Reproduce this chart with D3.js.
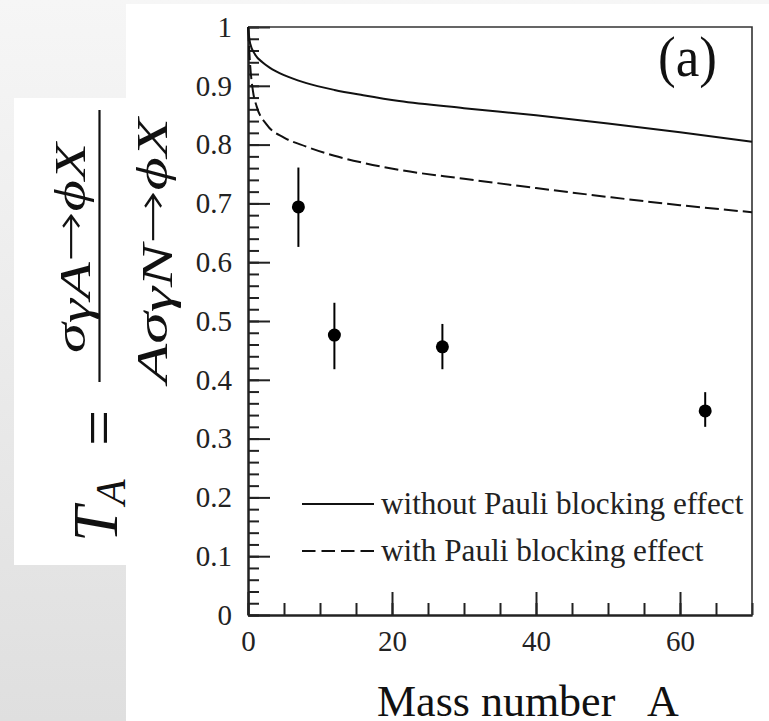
<!DOCTYPE html>
<html>
<head>
<meta charset="utf-8">
<script src="https://cdn.jsdelivr.net/npm/d3@7"></script>
<style>
  html, body { margin: 0; padding: 0; background: #ffffff; }
  svg { display: block; }
</style>
</head>
<body>
<svg id="chart" width="769" height="721"></svg>
<script>
// ---------------- data ----------------
const massNumbers   = [7, 12, 27, 63.5];
const tValues       = [0.694, 0.476, 0.456, 0.347];
const tErrHigh      = [0.761, 0.531, 0.495, 0.379];
const tErrLow       = [0.626, 0.418, 0.418, 0.320];

const curveNoPauliA = [0, 0.3, 1, 2, 3, 5, 8, 12, 16, 21, 30, 40, 50, 60, 70];
const curveNoPauliT = [1.0, 0.972, 0.953, 0.940, 0.931, 0.918, 0.905, 0.893, 0.884, 0.874, 0.862, 0.850, 0.836, 0.821, 0.805];

const curvePauliA   = [0, 0.3, 0.7, 1.2, 2.6, 5, 8, 12, 16, 21, 30, 40, 50, 60, 70];
const curvePauliT   = [1.0, 0.935, 0.89, 0.865, 0.834, 0.812, 0.797, 0.781, 0.769, 0.757, 0.742, 0.726, 0.711, 0.697, 0.685];

const xTickValues   = [0, 20, 40, 60];
const xTickLabels   = ["0", "20", "40", "60"];
const yTickValues   = [0, 0.1, 0.2, 0.3, 0.4, 0.5, 0.6, 0.7, 0.8, 0.9, 1];
const yTickLabels   = ["0", "0.1", "0.2", "0.3", "0.4", "0.5", "0.6", "0.7", "0.8", "0.9", "1"];

const legendLabels  = ["without Pauli blocking effect", "with Pauli blocking effect"];
const panelLabel    = "(a)";
const xAxisTitle    = "Mass number";
const xAxisSymbol   = "A";

// ---------------- layout ----------------
const svg = d3.select("#chart");
const W = 769, H = 721;
const plot = { left: 248, right: 752, top: 27, bottom: 615 };
const serif = "'Liberation Serif', 'Times New Roman', serif";

const x = d3.scaleLinear().domain([0, 70]).range([plot.left, plot.right]);
const y = d3.scaleLinear().domain([0, 1]).range([plot.bottom, plot.top]);

// background gradient (slide)
const defs = svg.append("defs");
const grad = defs.append("linearGradient").attr("id", "bg").attr("x1", 0).attr("y1", 0).attr("x2", 0).attr("y2", 1);
grad.append("stop").attr("offset", "0%").attr("stop-color", "#f6f6f6");
grad.append("stop").attr("offset", "100%").attr("stop-color", "#dfdfdf");
svg.append("rect").attr("width", W).attr("height", H).attr("fill", "url(#bg)");

// white panels
svg.append("rect").attr("x", 126).attr("y", 4).attr("width", W - 126).attr("height", H - 4).attr("fill", "#ffffff");
svg.append("rect").attr("x", 14).attr("y", 98).attr("width", 112).attr("height", 467).attr("fill", "#ffffff");

// ---------------- axes ----------------
const minorY = d3.range(0, 51).map(i => i / 50);
const minorX = d3.range(0, 15).map(i => i * 5);

svg.append("g")
  .attr("transform", `translate(${plot.left},0)`)
  .call(d3.axisLeft(y).tickValues(minorY).tickSizeInner(-11).tickSizeOuter(0).tickFormat(""))
  .call(g => g.selectAll("line, path").attr("stroke", "#222").attr("stroke-width", 2));

svg.append("g")
  .attr("transform", `translate(0,${plot.bottom})`)
  .call(d3.axisBottom(x).tickValues(minorX).tickSizeInner(-12).tickSizeOuter(0).tickFormat(""))
  .call(g => g.selectAll("line, path").attr("stroke", "#222").attr("stroke-width", 2));

svg.append("g")
  .attr("transform", `translate(${plot.left},0)`)
  .call(d3.axisLeft(y).tickValues(yTickValues).tickSizeInner(-22).tickSizeOuter(0).tickPadding(16)
        .tickFormat((d, i) => yTickLabels[i]))
  .call(g => g.selectAll("line, path").attr("stroke", "#222").attr("stroke-width", 2))
  .call(g => g.selectAll("text").attr("font-family", serif).attr("font-size", 29).attr("fill", "#222"));

svg.append("g")
  .attr("transform", `translate(0,${plot.bottom})`)
  .call(d3.axisBottom(x).tickValues(xTickValues).tickSizeInner(-23).tickSizeOuter(0).tickPadding(15)
        .tickFormat((d, i) => xTickLabels[i]))
  .call(g => g.selectAll("line, path").attr("stroke", "#222").attr("stroke-width", 2))
  .call(g => g.selectAll("text").attr("font-family", serif).attr("font-size", 29).attr("fill", "#222"));

// frame top & right
svg.append("path")
  .attr("d", `M${x(0)},${y(1)}H${x(70)}V${y(0)}`)
  .attr("fill", "none").attr("stroke", "#333").attr("stroke-width", 1.6);

// ---------------- curves ----------------
const line = d3.line().x(d => x(d[0])).y(d => y(d[1])).curve(d3.curveMonotoneX);
const noPauli = curveNoPauliA.map((a, i) => [a, curveNoPauliT[i]]);
const pauli = curvePauliA.map((a, i) => [a, curvePauliT[i]]);

svg.append("path").datum(noPauli).attr("d", line)
  .attr("fill", "none").attr("stroke", "#111").attr("stroke-width", 2);
svg.append("path").datum(pauli).attr("d", line)
  .attr("fill", "none").attr("stroke", "#111").attr("stroke-width", 2)
  .attr("stroke-dasharray", "14,5");

// ---------------- data points ----------------
const pts = massNumbers.map((a, i) => ({ a, v: tValues[i], hi: tErrHigh[i], lo: tErrLow[i] }));
const gp = svg.append("g");
gp.selectAll("line.err").data(pts).join("line")
  .attr("class", "err")
  .attr("x1", d => x(d.a)).attr("x2", d => x(d.a))
  .attr("y1", d => y(d.hi)).attr("y2", d => y(d.lo))
  .attr("stroke", "#000").attr("stroke-width", 2);
gp.selectAll("circle").data(pts).join("circle")
  .attr("cx", d => x(d.a)).attr("cy", d => y(d.v)).attr("r", 6.5).attr("fill", "#000");

// ---------------- legend ----------------
const legY = [504, 551];
legendLabels.forEach((lab, i) => {
  svg.append("line")
    .attr("x1", 302).attr("x2", 374).attr("y1", legY[i]).attr("y2", legY[i])
    .attr("stroke", "#111").attr("stroke-width", 2)
    .attr("stroke-dasharray", i === 1 ? "13.5,6" : null);
  svg.append("text")
    .attr("x", 381).attr("y", legY[i] + 9.5)
    .attr("font-family", serif).attr("font-size", 31.2).attr("fill", "#222")
    .text(lab);
});

// panel label
svg.append("text")
  .attr("x", 658).attr("y", 76)
  .attr("font-family", serif).attr("font-size", 56).attr("fill", "#111")
  .attr("textLength", 59).attr("lengthAdjust", "spacingAndGlyphs")
  .text(panelLabel);

// x axis title
svg.append("text")
  .attr("x", 377).attr("y", 716)
  .attr("font-family", serif).attr("font-size", 44).attr("fill", "#111")
  .text(xAxisTitle);
svg.append("text")
  .attr("x", 647).attr("y", 716)
  .attr("font-family", serif).attr("font-size", 44).attr("fill", "#111")
  .text(xAxisSymbol);

// ---------------- y axis title (rotated formula) ----------------
const yl = svg.append("g").attr("fill", "#111").attr("font-family", serif);

yl.append("text")
  .attr("transform", "translate(117,542) rotate(-90)")
  .attr("font-size", 64).attr("font-style", "italic")
  .text("T");
yl.append("text")
  .attr("transform", "translate(125,505) rotate(-90)")
  .attr("font-size", 42).attr("font-style", "italic")
  .text("A");
yl.append("text")
  .attr("transform", "translate(120,428) rotate(-90)")
  .attr("font-size", 64).attr("text-anchor", "middle")
  .text("=");

// fraction bar
yl.append("line")
  .attr("x1", 99.5).attr("x2", 99.5).attr("y1", 110).attr("y2", 382)
  .attr("stroke", "#111").attr("stroke-width", 2.2);

const arrowFont = "'DejaVu Sans', sans-serif";

// numerator
const num = yl.append("text")
  .attr("transform", "translate(85,353) rotate(-90)")
  .attr("font-size", 44).attr("font-style", "italic")
  .attr("textLength", 210).attr("lengthAdjust", "spacingAndGlyphs");
num.append("tspan").text("σ");
num.append("tspan").attr("dy", 5).text("γA");
num.append("tspan").attr("dy", -5).attr("font-style", "normal").attr("font-family", arrowFont).attr("font-weight", 300).text("→");
num.append("tspan").text("ϕX");

// denominator
const den = yl.append("text")
  .attr("transform", "translate(167,383) rotate(-90)")
  .attr("font-size", 44).attr("font-style", "italic")
  .attr("textLength", 265).attr("lengthAdjust", "spacingAndGlyphs");
den.append("tspan").text("Aσ");
den.append("tspan").attr("dy", 5).text("γN");
den.append("tspan").attr("dy", -5).attr("font-style", "normal").attr("font-family", arrowFont).attr("font-weight", 300).text("→");
den.append("tspan").text("ϕX");
</script>
</body>
</html>
